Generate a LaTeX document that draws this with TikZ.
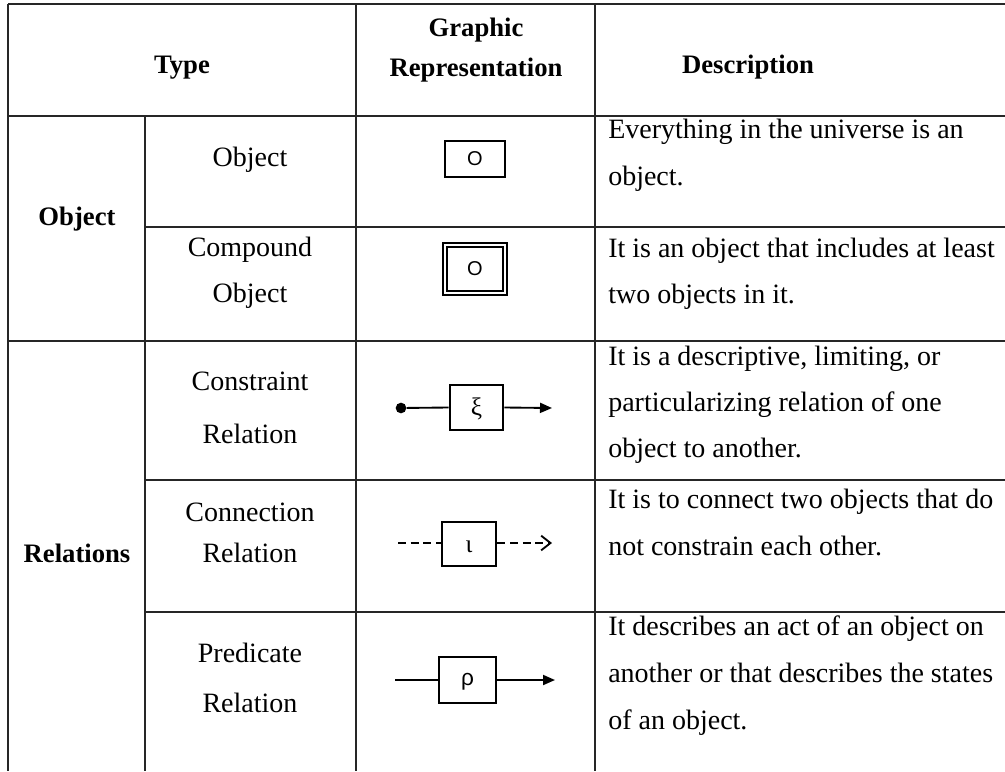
\documentclass[tikz,border=0pt]{standalone}
\usepackage{fontspec}
\setmainfont{Liberation Serif}
\newfontfamily\symfont{Liberation Sans}
\newfontfamily\greekfont{Liberation Serif}
\usetikzlibrary{arrows.meta}
\begin{document}
\begin{tikzpicture}[x=0.75pt,y=-0.75pt,
  rule/.style={line width=1.1pt, draw=black!85},
  body/.style={font=\fontsize{21}{21}\selectfont, inner sep=0pt, anchor=base},
  head/.style={font=\fontsize{20}{20}\selectfont\bfseries, inner sep=0pt, anchor=base},
  desc/.style={body, anchor=base west},
  symtext/.style={font=\symfont\fontsize{15}{15}\selectfont},
  grtext/.style={font=\greekfont\fontsize{19}{19}\selectfont},
  objbox/.style={draw, line width=0.9pt, inner sep=0pt, symtext},
  relbox/.style={draw, line width=2.2pt, inner sep=0pt},
  link/.style={line width=1.4pt},
  dashlink/.style={line width=1.4pt, dash pattern=on 6pt off 3.5pt},
]
\useasboundingbox (0,0) rectangle (1005,771);

% ---------- table rules ----------
\draw[rule] (8,4) -- (1005,4);
\draw[rule] (8,116) -- (1005,116);
\draw[rule] (145,227) -- (1005,227);
\draw[rule] (8,341) -- (1005,341);
\draw[rule] (145,480) -- (1005,480);
\draw[rule] (145,612) -- (1005,612);
\draw[rule] (8,4) -- (8,771);
\draw[rule] (145,116) -- (145,771);
\draw[rule] (356,4) -- (356,771);
\draw[rule] (595,4) -- (595,771);

% ---------- header ----------
\node[head] (hType) at (182,73) {Type};
\node[head] (hGraphic) at (476,36) {Graphic};
\node[head] (hRep) at (476,76) {Representation};
\node[head] (hDesc) at (748,73) {Description};

% ---------- group labels ----------
\node[head] (gObject) at (77,225) {Object};
\node[head] (gRel) at (77,562) {Relations};

% ---------- type names ----------
\node[body] (tObj) at (250,166) {Object};
\node[body] (tComp1) at (250,256) {Compound};
\node[body] (tComp2) at (250,302) {Object};
\node[body] (tCons1) at (250,390) {Constraint};
\node[body] (tCons2) at (250,443) {Relation};
\node[body] (tConn1) at (250,521) {Connection};
\node[body] (tConn2) at (250,562) {Relation};
\node[body] (tPred1) at (250,662) {Predicate};
\node[body] (tPred2) at (250,712) {Relation};

% ---------- descriptions ----------
\node[desc] (d1a) at (608,138) {Everything in the universe is an};
\node[desc] (d1b) at (608,185) {object.};
\node[desc] (d2a) at (608,257) {It is an object that includes at least};
\node[desc] (d2b) at (608,303) {two objects in it.};
\node[desc] (d3a) at (608,365) {It is a descriptive, limiting, or};
\node[desc] (d3b) at (608,411) {particularizing relation of one};
\node[desc] (d3c) at (608,457) {object to another.};
\node[desc] (d4a) at (608,508) {It is to connect two objects that do};
\node[desc] (d4b) at (608,555) {not constrain each other.};
\node[desc] (d5a) at (608,635) {It describes an act of an object on};
\node[desc] (d5b) at (608,682) {another or that describes the states};
\node[desc] (d5c) at (608,729) {of an object.};

% ---------- graphic symbols ----------
% simple object
\node[objbox, minimum width=45pt, minimum height=27pt] (gObj) at (475,159) {O};

% compound object: double frame
\node[draw, line width=1.8pt, minimum width=48pt, minimum height=39pt, inner sep=0pt] (gCompOut) at (475,269) {};
\node[draw, line width=1.4pt, minimum width=42pt, minimum height=33pt, inner sep=0pt, symtext] (gCompIn) at (475,269) {O};

% constraint relation
\node[relbox, minimum width=39.75pt, minimum height=33.75pt] (gCons) at (476.5,407.5) {};
\node[grtext] (xi) at ([yshift=-1pt]gCons.center) {ξ};
\node[circle, fill, inner sep=0pt, minimum size=8pt] (consDot) at (401,408) {};
\coordinate (consEnd) at (552,408);
\draw[link] (consDot) -- (gCons.west);
\draw[link, -{Triangle[length=9pt, width=7.5pt]}] (gCons.east) -- (consEnd);

% connection relation
\node[relbox, minimum width=40.5pt, minimum height=33pt] (gConn) at (469,544) {};
\node[grtext, anchor=base] (iota) at ([yshift=-6pt]gConn.center) {ι};
\coordinate (connStart) at (398,543);
\coordinate (connEnd) at (552,543);
\draw[dashlink] (connStart) -- (gConn.west |- connStart);
\draw[dashlink, -{Straight Barb[length=7pt, width=11pt, line width=1.4pt]}] (gConn.east |- connEnd) -- (connEnd);

% predicate relation
\node[relbox, line width=2pt, minimum width=42.75pt, minimum height=34.5pt] (gPred) at (467.5,680) {};
\node[font=\symfont\fontsize{17}{17}\selectfont, anchor=base] (rho) at ([yshift=-4pt]gPred.center) {ρ};
\coordinate (predStart) at (395,680);
\coordinate (predEnd) at (555,680);
\draw[link] (predStart) -- (gPred.west);
\draw[link, -{Triangle[length=9pt, width=7.5pt]}] (gPred.east) -- (predEnd);
\end{tikzpicture}
\end{document}
